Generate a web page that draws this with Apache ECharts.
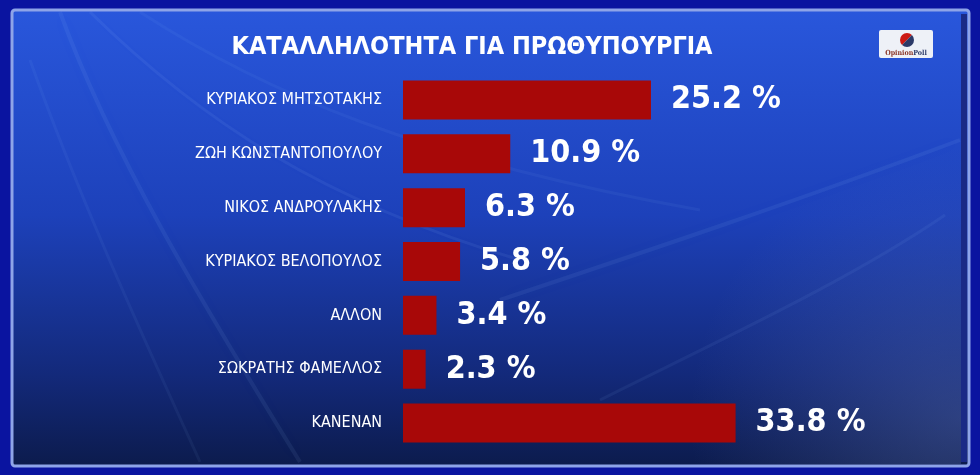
<!DOCTYPE html>
<html>
<head>
<meta charset="utf-8">
<script src="https://cdn.jsdelivr.net/npm/echarts@6/dist/echarts.min.js"></script>
<style>
  html, body { margin: 0; padding: 0; background: #0a14a0; }
  #main { width: 980px; height: 475px; }
</style>
</head>
<body>
<div id="main"></div>
<script>
// δεδομένα δημοσκόπησης
const titleText = 'ΚΑΤΑΛΛΗΛΟΤΗΤΑ ΓΙΑ ΠΡΩΘΥΠΟΥΡΓΙΑ';
const categories = [
  'ΚΥΡΙΑΚΟΣ ΜΗΤΣΟΤΑΚΗΣ',
  'ΖΩΗ ΚΩΝΣΤΑΝΤΟΠΟΥΛΟΥ',
  'ΝΙΚΟΣ ΑΝΔΡΟΥΛΑΚΗΣ',
  'ΚΥΡΙΑΚΟΣ ΒΕΛΟΠΟΥΛΟΣ',
  'ΑΛΛΟΝ',
  'ΣΩΚΡΑΤΗΣ ΦΑΜΕΛΛΟΣ',
  'ΚΑΝΕΝΑΝ'
];
const values = [25.2, 10.9, 6.3, 5.8, 3.4, 2.3, 33.8];

const narrow = "'Liberation Sans Narrow', 'DejaVu Sans Condensed', sans-serif";

let myChart = echarts.init(document.getElementById('main'));

// φωτεινές γραμμές στο φόντο
function streak(x1, y1, cx1, cy1, cx2, cy2, x2, y2, alpha, w) {
  return {
    type: 'bezierCurve',
    z: 1,
    silent: true,
    shape: { x1: x1, y1: y1, cpx1: cx1, cpy1: cy1, cpx2: cx2, cpy2: cy2, x2: x2, y2: y2 },
    style: {
      fill: null,
      stroke: 'rgba(160,200,255,' + alpha + ')',
      lineWidth: w,
      shadowBlur: 18,
      shadowColor: 'rgba(160,200,255,0.4)'
    }
  };
}

myChart.setOption({
  backgroundColor: '#0a14a0',
  animation: false,
  graphic: [
    {
      type: 'rect',
      z: 0,
      silent: true,
      shape: { x: 12, y: 10, width: 957, height: 456, r: 3 },
      style: {
        fill: new echarts.graphic.LinearGradient(0, 0, 0, 1, [
          { offset: 0, color: '#2957dc' },
          { offset: 0.45, color: '#1d41ba' },
          { offset: 0.8, color: '#13297a' },
          { offset: 1, color: '#0c1b4c' }
        ]),
        stroke: '#8ea4e8',
        lineWidth: 3
      }
    },
    {
      type: 'rect',
      z: 0,
      silent: true,
      shape: { x: 14, y: 12, width: 947, height: 452 },
      style: {
        fill: new echarts.graphic.RadialGradient(1, 0.9, 0.6, [
          { offset: 0, color: 'rgba(100,120,180,0.35)' },
          { offset: 1, color: 'rgba(100,120,180,0)' }
        ])
      }
    },
    {
      type: 'rect',
      z: 0,
      silent: true,
      shape: { x: 961, y: 14, width: 6, height: 448 },
      style: { fill: '#1a2a86' }
    },
    streak(60, 12, 110, 150, 200, 300, 300, 462, 0.08, 4),
    streak(90, 12, 200, 120, 320, 200, 520, 260, 0.08, 3),
    streak(140, 12, 260, 90, 420, 160, 700, 210, 0.06, 3),
    streak(30, 60, 80, 200, 140, 330, 200, 462, 0.06, 3),
    streak(500, 300, 650, 250, 800, 200, 960, 140, 0.08, 4),
    streak(600, 400, 720, 340, 850, 280, 945, 215, 0.07, 3),
    {
      type: 'text',
      z: 3,
      silent: true,
      style: {
        x: 472,
        y: 47,
        text: titleText,
        fill: '#ffffff',
        font: 'bold 25px ' + narrow,
        textAlign: 'center',
        textVerticalAlign: 'middle'
      }
    },
    {
      type: 'group',
      z: 3,
      silent: true,
      children: [
        {
          type: 'rect',
          shape: { x: 879, y: 30, width: 54, height: 28, r: 2 },
          style: { fill: '#eef1f7' }
        },
        {
          type: 'sector',
          shape: { cx: 907, cy: 40, r: 7, startAngle: Math.PI * 0.75, endAngle: Math.PI * 1.75 },
          style: { fill: '#cc1a14' }
        },
        {
          type: 'sector',
          shape: { cx: 907, cy: 40, r: 7, startAngle: -Math.PI * 0.25, endAngle: Math.PI * 0.75 },
          style: { fill: '#2c3a68' }
        },
        {
          type: 'text',
          style: {
            x: 906,
            y: 53,
            text: '{a|Opinion}{b|Poll}',
            textAlign: 'center',
            textVerticalAlign: 'middle',
            rich: {
              a: { fill: '#8a3426', font: 'bold 7px "DejaVu Serif Condensed", "DejaVu Serif", serif' },
              b: { fill: '#2c3a68', font: 'bold 7px "DejaVu Serif Condensed", "DejaVu Serif", serif' }
            }
          }
        }
      ]
    }
  ],
  grid: { left: 403, top: 73, bottom: 25, right: 85, containLabel: false },
  xAxis: {
    type: 'value',
    min: 0,
    max: 50,
    show: false
  },
  yAxis: {
    type: 'category',
    data: categories,
    inverse: true,
    axisLine: { show: false },
    axisTick: { show: false },
    axisLabel: {
      color: '#ffffff',
      fontFamily: narrow,
      fontSize: 16,
      margin: 21
    }
  },
  series: [
    {
      type: 'bar',
      data: values,
      barWidth: 39,
      z: 4,
      itemStyle: { color: '#a80808' },
      label: {
        show: true,
        position: 'right',
        distance: 20,
        color: '#ffffff',
        fontFamily: narrow,
        fontWeight: 'bold',
        fontSize: 32,
        formatter: function (p) { return p.value.toFixed(1) + ' %'; }
      }
    }
  ]
});
</script>
</body>
</html>
